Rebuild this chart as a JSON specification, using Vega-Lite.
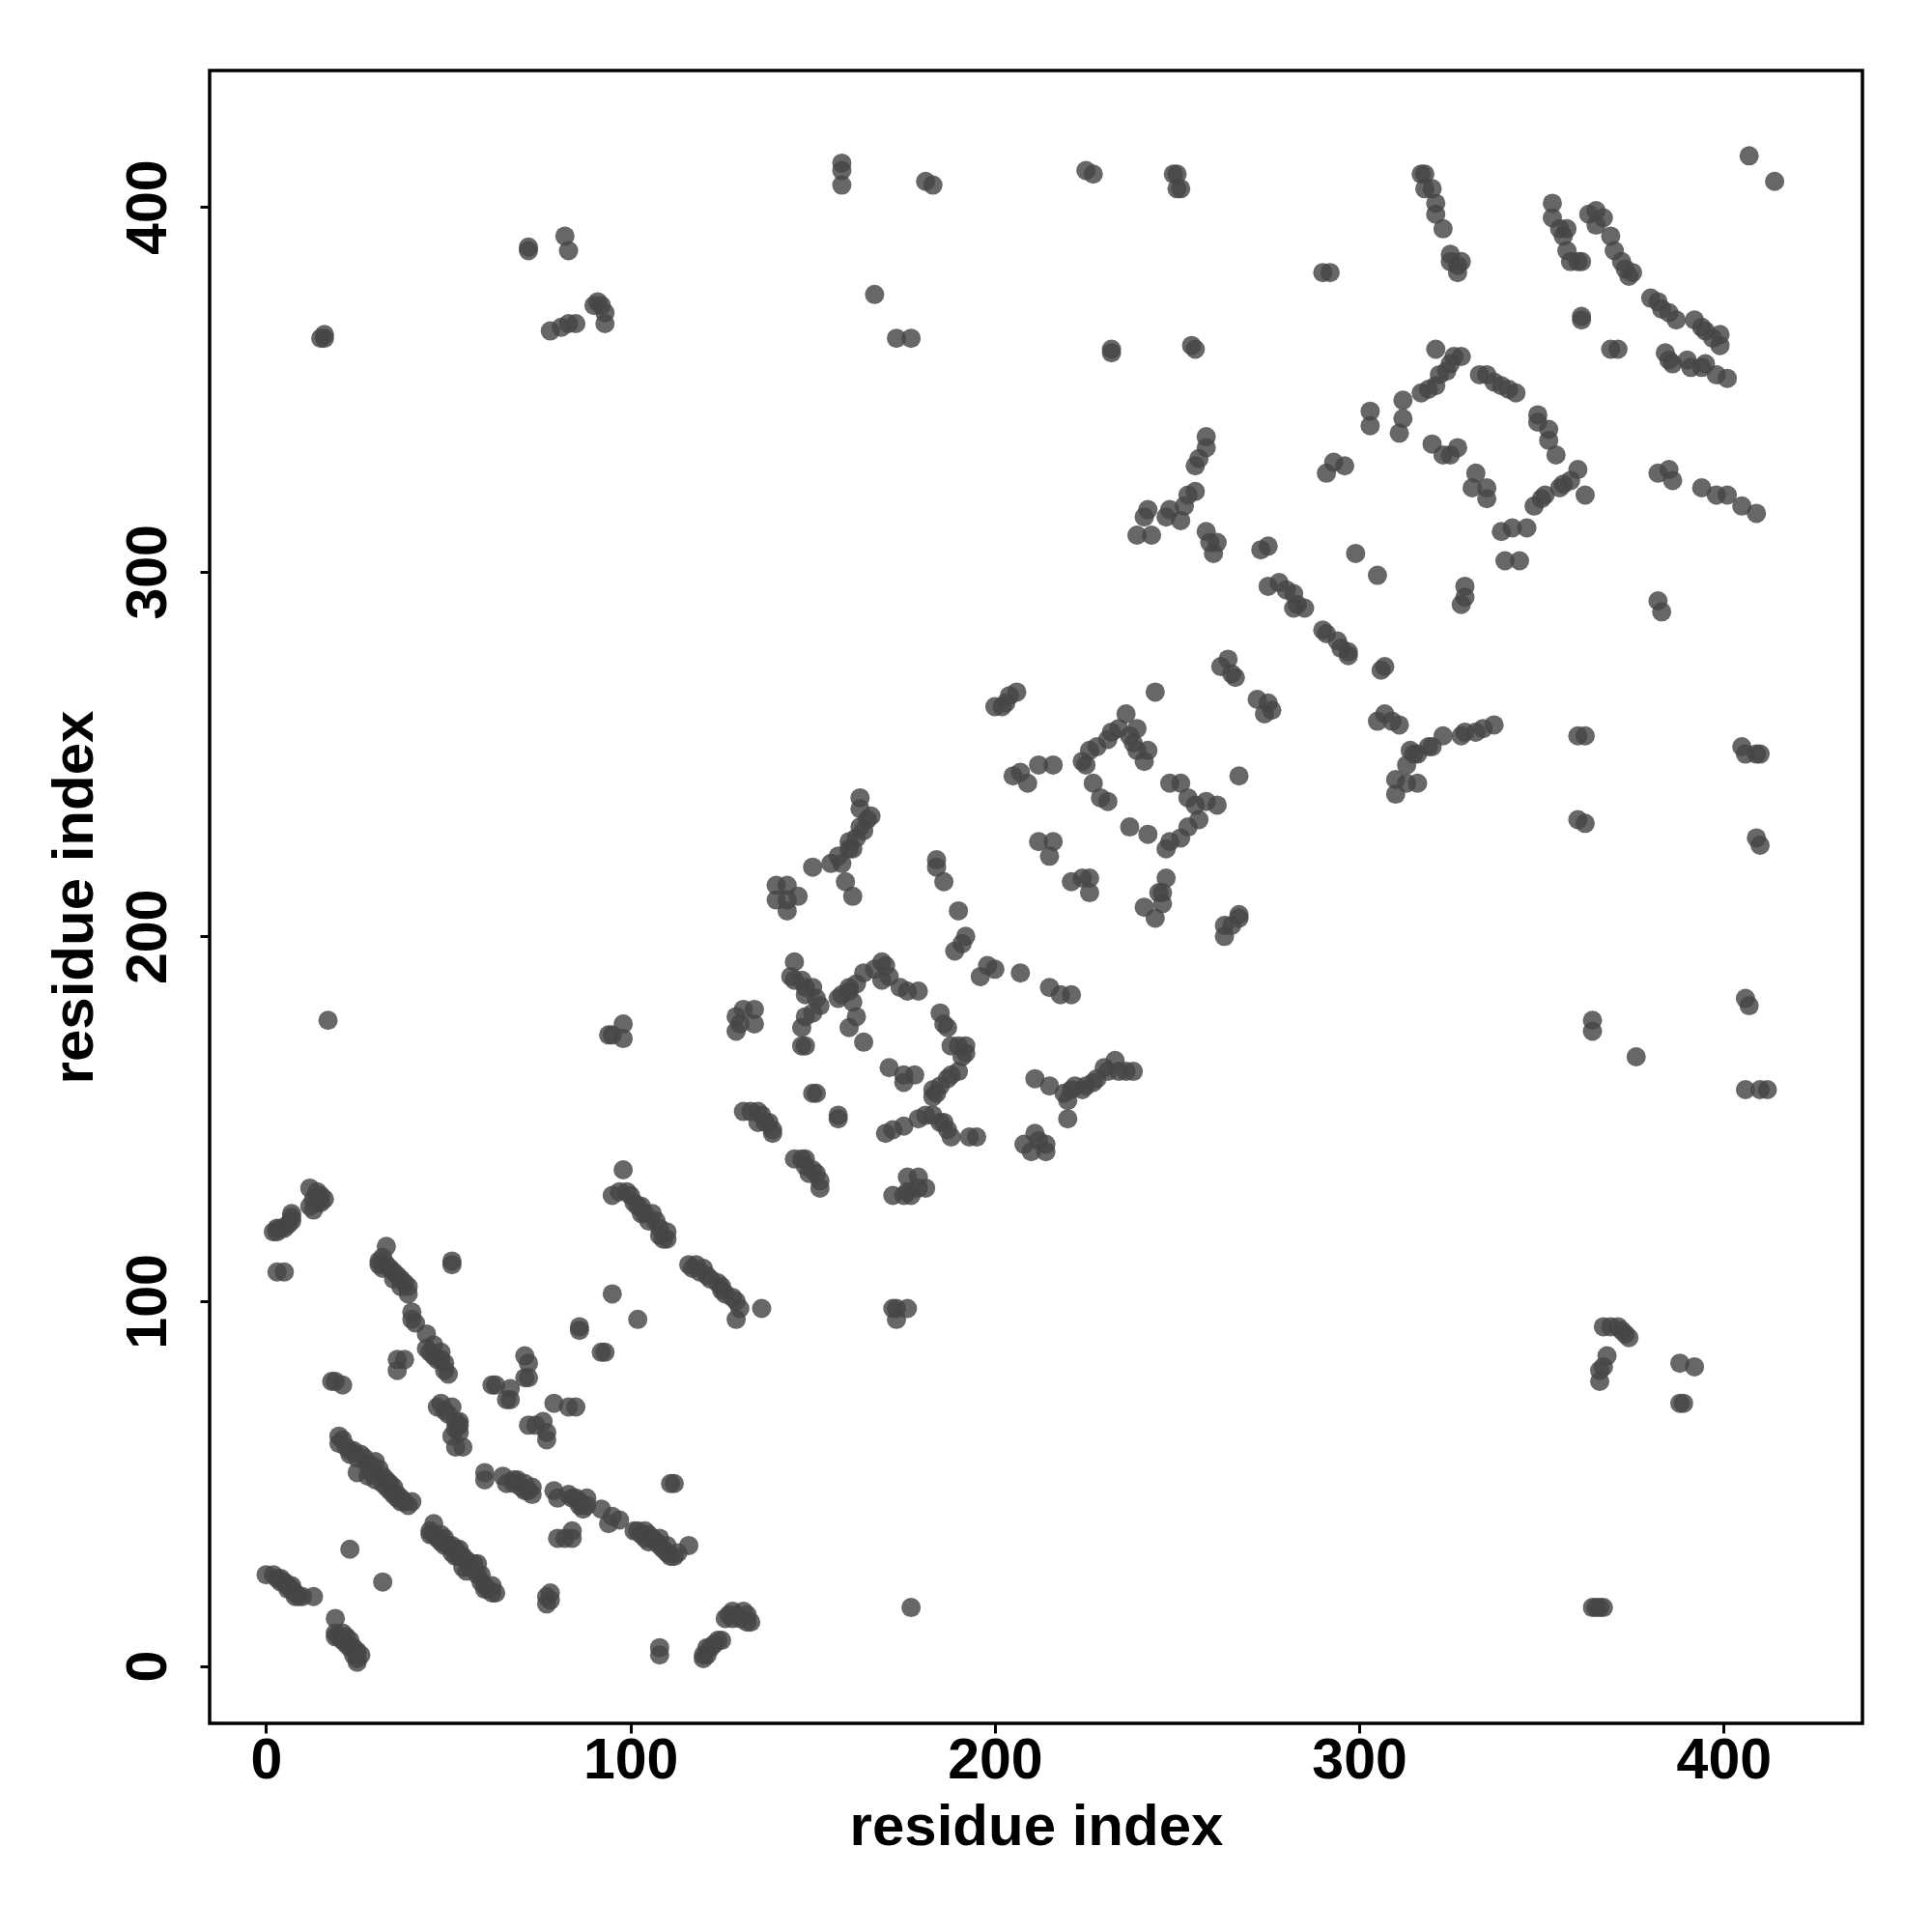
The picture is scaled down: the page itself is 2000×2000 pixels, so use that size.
{"$schema":"https://vega.github.io/schema/vega-lite/v6.json","width":1711,"height":1711,"autosize":{"type":"none"},"padding":{"left":217,"top":73,"right":72,"bottom":216},"background":"white","config":{"view":{"stroke":"black","strokeWidth":3.5},"font":"Liberation Sans"},"data":{"values":[
{"i":0,"j":25},{"i":2,"j":25},{"i":3,"j":24},{"i":4,"j":24},{"i":4,"j":23},{"i":5,"j":23},{"i":6,"j":22},{"i":6,"j":21},{"i":7,"j":22},{"i":7,"j":21},{"i":8,"j":20},{"i":8,"j":19},{"i":9,"j":19},{"i":10,"j":19},{"i":13,"j":19},
{"i":19,"j":13},{"i":19,"j":9},{"i":19,"j":8},{"i":20,"j":8},{"i":21,"j":7},{"i":21,"j":9},{"i":22,"j":8},{"i":22,"j":6},{"i":23,"j":7},{"i":23,"j":5},{"i":24,"j":5},{"i":24,"j":3},{"i":25,"j":4},{"i":25,"j":2},{"i":25,"j":1},{"i":26,"j":3},
{"i":23,"j":32},{"i":32,"j":23},
{"i":20,"j":63},{"i":20,"j":61},{"i":21,"j":62},{"i":22,"j":60},{"i":23,"j":59},{"i":23,"j":58},{"i":24,"j":59},{"i":25,"j":57},{"i":25,"j":53},{"i":26,"j":58},{"i":27,"j":57},{"i":28,"j":55},{"i":28,"j":52},{"i":29,"j":55},{"i":29,"j":53},{"i":30,"j":51},{"i":30,"j":56},{"i":31,"j":54},{"i":32,"j":52},{"i":32,"j":50},{"i":33,"j":51},{"i":33,"j":49},{"i":34,"j":50},{"i":34,"j":48},{"i":35,"j":49},{"i":35,"j":47},{"i":36,"j":46},{"i":36,"j":47},{"i":37,"j":46},{"i":37,"j":45},{"i":38,"j":45},{"i":39,"j":44},{"i":40,"j":45},
{"i":45,"j":37},{"i":45,"j":36},{"i":46,"j":39},{"i":46,"j":36},{"i":47,"j":35},{"i":48,"j":36},{"i":48,"j":34},{"i":49,"j":35},{"i":49,"j":33},{"i":50,"j":33},{"i":51,"j":33},{"i":51,"j":31},{"i":52,"j":32},{"i":52,"j":30},{"i":53,"j":30},{"i":53,"j":32},{"i":54,"j":30},{"i":54,"j":27},{"i":55,"j":29},{"i":55,"j":26},{"i":56,"j":27},{"i":57,"j":28},{"i":58,"j":28},{"i":58,"j":25},{"i":59,"j":25},{"i":59,"j":23},{"i":60,"j":22},{"i":60,"j":21},{"i":61,"j":21},{"i":62,"j":20},{"i":62,"j":22},{"i":63,"j":20},
{"i":60,"j":53},{"i":60,"j":51},
{"i":65,"j":52},{"i":66,"j":50},{"i":68,"j":51},{"i":68,"j":50},{"i":69,"j":51},{"i":70,"j":49},{"i":71,"j":50},{"i":71,"j":48},{"i":72,"j":48},{"i":73,"j":49},{"i":73,"j":47},
{"i":79,"j":48},{"i":80,"j":46},{"i":83,"j":47},{"i":84,"j":46},{"i":85,"j":46},{"i":86,"j":45},{"i":86,"j":44},{"i":87,"j":43},{"i":88,"j":46},{"i":88,"j":44},{"i":92,"j":43},{"i":94,"j":39},{"i":95,"j":41},{"i":97,"j":40},
{"i":101,"j":37},{"i":102,"j":37},{"i":103,"j":36},{"i":104,"j":37},{"i":104,"j":35},{"i":105,"j":36},{"i":105,"j":34},{"i":106,"j":35},{"i":107,"j":34},{"i":108,"j":33},{"i":108,"j":35},{"i":109,"j":32},{"i":110,"j":33},{"i":110,"j":31},{"i":111,"j":30},{"i":112,"j":30},{"i":113,"j":31},{"i":116,"j":33},
{"i":111,"j":50},{"i":112,"j":50},{"i":77,"j":19},{"i":77,"j":17},{"i":78,"j":20},{"i":78,"j":18},{"i":80,"j":35},{"i":82,"j":35},{"i":84,"j":37},{"i":84,"j":35},
{"i":108,"j":5},{"i":108,"j":3},
{"i":120,"j":2},{"i":120,"j":3},{"i":121,"j":3},{"i":121,"j":5},{"i":122,"j":5},{"i":123,"j":6},{"i":124,"j":7},{"i":125,"j":7},{"i":126,"j":13},{"i":127,"j":14},{"i":128,"j":13},{"i":128,"j":15},{"i":129,"j":14},{"i":130,"j":13},{"i":131,"j":15},{"i":132,"j":14},{"i":132,"j":12},{"i":133,"j":12},
{"i":177,"j":16},{"i":364,"j":16},{"i":365,"j":16},{"i":366,"j":16},{"i":367,"j":16},{"i":17,"j":177},
{"i":2,"j":119},{"i":3,"j":119},{"i":3,"j":120},{"i":4,"j":120},{"i":5,"j":120},{"i":6,"j":121},{"i":7,"j":123},{"i":7,"j":122},{"i":7,"j":124},{"i":12,"j":131},{"i":12,"j":126},{"i":13,"j":128},{"i":13,"j":125},{"i":14,"j":130},{"i":14,"j":127},{"i":15,"j":129},{"i":15,"j":127},{"i":16,"j":128},
{"i":3,"j":108},{"i":5,"j":108},{"i":18,"j":78},{"i":19,"j":78},{"i":21,"j":77},
{"i":31,"j":111},{"i":31,"j":110},{"i":32,"j":112},{"i":32,"j":109},{"i":33,"j":115},{"i":33,"j":110},{"i":34,"j":109},{"i":35,"j":108},{"i":35,"j":106},{"i":36,"j":107},{"i":37,"j":106},{"i":37,"j":104},{"i":38,"j":105},{"i":39,"j":104},{"i":39,"j":102},
{"i":51,"j":111},{"i":51,"j":110},
{"i":40,"j":97},{"i":40,"j":95},{"i":41,"j":94},{"i":44,"j":91},{"i":44,"j":87},{"i":45,"j":86},{"i":46,"j":88},{"i":46,"j":85},{"i":47,"j":84},{"i":48,"j":86},{"i":48,"j":84},{"i":49,"j":83},{"i":49,"j":81},{"i":50,"j":80},{"i":36,"j":84},{"i":36,"j":81},{"i":38,"j":84},
{"i":47,"j":71},{"i":48,"j":72},{"i":49,"j":70},{"i":50,"j":69},{"i":51,"j":71},{"i":51,"j":63},{"i":52,"j":67},{"i":52,"j":65},{"i":53,"j":67},{"i":53,"j":66},{"i":53,"j":64},{"i":52,"j":60},{"i":54,"j":60},
{"i":62,"j":77},{"i":63,"j":77},{"i":67,"j":76},{"i":67,"j":73},{"i":66,"j":73},
{"i":71,"j":85},{"i":72,"j":83},{"i":71,"j":79},{"i":72,"j":79},{"i":72,"j":66},{"i":74,"j":66},{"i":76,"j":67},{"i":77,"j":62},{"i":77,"j":64},
{"i":79,"j":72},{"i":83,"j":71},{"i":85,"j":71},{"i":86,"j":93},{"i":86,"j":92},{"i":92,"j":86},{"i":93,"j":86},{"i":95,"j":102},{"i":102,"j":95},
{"i":95,"j":129},{"i":98,"j":136},{"i":97,"j":130},{"i":99,"j":130},{"i":100,"j":129},{"i":101,"j":127},{"i":102,"j":126},{"i":103,"j":126},{"i":103,"j":124},{"i":104,"j":124},{"i":105,"j":122},{"i":106,"j":124},{"i":107,"j":122},{"i":108,"j":120},{"i":108,"j":118},{"i":110,"j":119},{"i":110,"j":117},{"i":109,"j":117},
{"i":116,"j":110},{"i":117,"j":109},{"i":118,"j":110},{"i":119,"j":108},{"i":120,"j":109},{"i":121,"j":107},{"i":122,"j":106},{"i":124,"j":105},{"i":125,"j":104},{"i":125,"j":103},{"i":126,"j":102},{"i":128,"j":101},{"i":129,"j":100},{"i":130,"j":98},{"i":129,"j":95},{"i":136,"j":98},
{"i":172,"j":98},{"i":173,"j":98},{"i":173,"j":95},{"i":176,"j":98},
{"i":367,"j":93},{"i":369,"j":93},{"i":371,"j":93},{"i":372,"j":92},{"i":373,"j":91},{"i":374,"j":90},{"i":368,"j":85},{"i":367,"j":82},{"i":366,"j":81},{"i":366,"j":78},{"i":388,"j":83},{"i":392,"j":82},{"i":388,"j":72},{"i":389,"j":72},
{"i":129,"j":178},{"i":131,"j":180},{"i":134,"j":180},{"i":134,"j":176},{"i":129,"j":174},{"i":130,"j":176},{"i":94,"j":173},{"i":98,"j":176},{"i":98,"j":172},{"i":95,"j":173},
{"i":131,"j":152},{"i":133,"j":152},{"i":135,"j":152},{"i":136,"j":151},{"i":137,"j":149},{"i":138,"j":149},{"i":139,"j":147},{"i":139,"j":146},{"i":135,"j":149},
{"i":145,"j":139},{"i":147,"j":139},{"i":148,"j":139},{"i":148,"j":137},{"i":149,"j":135},{"i":151,"j":135},{"i":152,"j":133},{"i":152,"j":131},{"i":150,"j":136},
{"i":150,"j":157},{"i":151,"j":157},{"i":157,"j":151},{"i":157,"j":150},
{"i":172,"j":129},{"i":175,"j":129},{"i":176,"j":130},{"i":176,"j":134},{"i":179,"j":134},{"i":181,"j":131},{"i":179,"j":131},{"i":177,"j":129},
{"i":170,"j":146},{"i":172,"j":147},{"i":175,"j":148},{"i":179,"j":150},{"i":181,"j":151},{"i":183,"j":151},{"i":185,"j":149},{"i":186,"j":149},{"i":187,"j":147},{"i":188,"j":145},{"i":193,"j":145},{"i":195,"j":145},
{"i":208,"j":143},{"i":210,"j":141},{"i":211,"j":146},{"i":212,"j":144},{"i":214,"j":141},{"i":214,"j":143},{"i":220,"j":150},{"i":215,"j":159},{"i":211,"j":161},
{"i":219,"j":157},{"i":220,"j":155},{"i":221,"j":158},{"i":222,"j":159},{"i":224,"j":158},{"i":225,"j":159},{"i":227,"j":160},{"i":228,"j":161},{"i":230,"j":164},{"i":231,"j":163},{"i":233,"j":166},{"i":234,"j":163},{"i":236,"j":163},{"i":238,"j":163},
{"i":145,"j":193},{"i":145,"j":188},{"i":147,"j":188},{"i":148,"j":186},{"i":148,"j":184},{"i":150,"j":186},{"i":151,"j":183},{"i":152,"j":181},{"i":150,"j":179},{"i":148,"j":178},{"i":147,"j":175},{"i":147,"j":170},{"i":148,"j":170},{"i":144,"j":189},
{"i":157,"j":183},{"i":158,"j":184},{"i":160,"j":185},{"i":162,"j":187},{"i":164,"j":190},{"i":160,"j":186},{"i":161,"j":182},
{"i":167,"j":191},{"i":169,"j":193},{"i":170,"j":192},{"i":169,"j":188},{"i":171,"j":189},{"i":174,"j":186},{"i":176,"j":185},{"i":179,"j":185},
{"i":162,"j":178},{"i":160,"j":175},{"i":164,"j":171},{"i":171,"j":164},{"i":175,"j":162},{"i":178,"j":162},{"i":175,"j":160},
{"i":185,"j":179},{"i":186,"j":176},{"i":187,"j":175},{"i":188,"j":170},{"i":190,"j":170},{"i":192,"j":170},{"i":192,"j":168},{"i":191,"j":167},
{"i":183,"j":158},{"i":183,"j":156},{"i":185,"j":159},{"i":187,"j":161},{"i":188,"j":162},{"i":190,"j":163},{"i":184,"j":157},
{"i":184,"j":221},{"i":184,"j":219},{"i":186,"j":215},{"i":190,"j":207},{"i":192,"j":200},{"i":191,"j":198},{"i":189,"j":196},{"i":196,"j":189},{"i":198,"j":192},{"i":200,"j":191},{"i":207,"j":190},{"i":215,"j":186},{"i":218,"j":184},{"i":221,"j":184},
{"i":140,"j":214},{"i":143,"j":214},{"i":140,"j":210},{"i":143,"j":210},{"i":146,"j":211},{"i":143,"j":207},
{"i":150,"j":219},{"i":155,"j":220},{"i":157,"j":222},{"i":160,"j":224},{"i":160,"j":226},{"i":162,"j":227},{"i":163,"j":230},{"i":165,"j":232},{"i":166,"j":233},{"i":163,"j":238},{"i":163,"j":235},{"i":158,"j":220},{"i":161,"j":224},{"i":164,"j":229},{"i":159,"j":215},{"i":161,"j":211},
{"i":200,"j":263},{"i":203,"j":264},{"i":204,"j":266},{"i":206,"j":267},{"i":202,"j":263},
{"i":205,"j":244},{"i":207,"j":245},{"i":209,"j":242},{"i":212,"j":247},{"i":216,"j":247},{"i":212,"j":226},{"i":216,"j":226},{"i":215,"j":222},{"i":221,"j":215},{"i":224,"j":216},{"i":226,"j":216},{"i":226,"j":212},
{"i":224,"j":248},{"i":225,"j":247},{"i":226,"j":251},{"i":228,"j":252},{"i":231,"j":254},{"i":232,"j":256},{"i":234,"j":257},{"i":236,"j":261},{"i":237,"j":255},{"i":239,"j":257},{"i":238,"j":253},{"i":239,"j":251},{"i":241,"j":248},{"i":242,"j":251},
{"i":227,"j":242},{"i":229,"j":238},{"i":231,"j":237},{"i":237,"j":230},{"i":242,"j":228},
{"i":247,"j":224},{"i":248,"j":226},{"i":251,"j":227},{"i":253,"j":230},{"i":256,"j":232},{"i":258,"j":237},{"i":261,"j":236},{"i":255,"j":236},{"i":253,"j":238},{"i":251,"j":242},{"i":248,"j":242},
{"i":244,"j":267},{"i":267,"j":244},{"i":247,"j":216},{"i":246,"j":212},{"i":245,"j":212},{"i":241,"j":208},{"i":244,"j":205},{"i":246,"j":209},
{"i":263,"j":200},{"i":263,"j":203},{"i":265,"j":203},{"i":267,"j":205},{"i":267,"j":206},
{"i":273,"j":306},{"i":275,"j":307},{"i":275,"j":296},{"i":278,"j":297},{"i":280,"j":295},{"i":282,"j":294},{"i":283,"j":291},{"i":285,"j":290},{"i":282,"j":290},
{"i":290,"j":284},{"i":291,"j":283},{"i":294,"j":281},{"i":295,"j":279},{"i":297,"j":277},{"i":297,"j":278},{"i":299,"j":305},{"i":305,"j":299},{"i":307,"j":274},{"i":306,"j":273},
{"i":262,"j":274},{"i":264,"j":276},{"i":265,"j":272},{"i":266,"j":271},{"i":272,"j":265},{"i":274,"j":261},{"i":275,"j":264},{"i":276,"j":262},
{"i":305,"j":259},{"i":307,"j":261},{"i":309,"j":259},{"i":311,"j":258},{"i":314,"j":251},{"i":316,"j":250},{"i":313,"j":247},{"i":319,"j":252},{"i":320,"j":252},{"i":323,"j":255},{"i":315,"j":250},
{"i":310,"j":243},{"i":310,"j":239},{"i":313,"j":242},{"i":316,"j":242},{"i":328,"j":255},{"i":329,"j":256},{"i":332,"j":256},{"i":334,"j":257},{"i":337,"j":258},
{"i":239,"j":310},{"i":241,"j":315},{"i":242,"j":317},{"i":243,"j":310},{"i":247,"j":315},{"i":248,"j":317},{"i":251,"j":314},{"i":252,"j":318},{"i":253,"j":321},{"i":255,"j":322},
{"i":255,"j":329},{"i":256,"j":331},{"i":258,"j":334},{"i":258,"j":337},{"i":258,"j":311},{"i":259,"j":308},{"i":260,"j":305},{"i":261,"j":308},
{"i":232,"j":361},{"i":232,"j":360},{"i":254,"j":362},{"i":255,"j":361},{"i":290,"j":382},{"i":292,"j":382},{"i":291,"j":327},{"i":293,"j":330},{"i":296,"j":329},{"i":303,"j":344},{"i":303,"j":340},{"i":312,"j":347},{"i":312,"j":342},{"i":311,"j":338},
{"i":317,"j":349},{"i":319,"j":350},{"i":321,"j":351},{"i":322,"j":354},{"i":324,"j":355},{"i":325,"j":357},{"i":326,"j":359},{"i":328,"j":359},{"i":321,"j":361},
{"i":333,"j":354},{"i":335,"j":354},{"i":337,"j":352},{"i":339,"j":351},{"i":341,"j":350},{"i":343,"j":349},{"i":320,"j":335},{"i":323,"j":332},{"i":325,"j":332},{"i":327,"j":334},{"i":331,"j":323},{"i":332,"j":327},{"i":335,"j":323},{"i":335,"j":320},
{"i":349,"j":343},{"i":349,"j":341},{"i":352,"j":339},{"i":352,"j":336},{"i":354,"j":332},{"i":360,"j":328},{"i":358,"j":325},{"i":355,"j":323},{"i":351,"j":321},{"i":348,"j":318},{"i":356,"j":324},{"i":350,"j":320},{"i":362,"j":321},
{"i":339,"j":311},{"i":342,"j":312},{"i":346,"j":312},{"i":340,"j":303},{"i":344,"j":303},{"i":328,"j":291},{"i":329,"j":293},{"i":329,"j":296},{"i":382,"j":292},{"i":383,"j":289},
{"i":382,"j":327},{"i":385,"j":328},{"i":386,"j":325},{"i":394,"j":323},{"i":398,"j":321},{"i":401,"j":321},{"i":405,"j":318},{"i":409,"j":316},
{"i":360,"j":255},{"i":362,"j":255},{"i":360,"j":232},{"i":362,"j":231},{"i":405,"j":252},{"i":406,"j":250},{"i":409,"j":250},{"i":410,"j":250},{"i":409,"j":227},{"i":410,"j":225},{"i":406,"j":183},{"i":407,"j":181},{"i":406,"j":158},{"i":410,"j":158},{"i":412,"j":158},{"i":364,"j":177},{"i":364,"j":174},{"i":376,"j":167},
{"i":16,"j":365},{"i":16,"j":364},{"i":15,"j":364},{"i":72,"j":388},{"i":72,"j":389},{"i":82,"j":392},{"i":83,"j":388},{"i":78,"j":366},{"i":81,"j":367},{"i":83,"j":368},{"i":85,"j":368},{"i":90,"j":373},{"i":92,"j":373},{"i":93,"j":371},{"i":93,"j":368},{"i":91,"j":374},
{"i":158,"j":410},{"i":158,"j":412},{"i":158,"j":406},{"i":167,"j":376},{"i":173,"j":364},{"i":177,"j":364},{"i":181,"j":407},{"i":183,"j":406},{"i":225,"j":410},{"i":227,"j":409},{"i":249,"j":409},{"i":250,"j":409},{"i":250,"j":405},{"i":251,"j":405},
{"i":317,"j":409},{"i":318,"j":409},{"i":318,"j":405},{"i":320,"j":405},{"i":321,"j":401},{"i":321,"j":398},{"i":323,"j":394},{"i":325,"j":387},{"i":325,"j":385},{"i":327,"j":384},{"i":328,"j":385},{"i":327,"j":382},{"i":407,"j":414},{"i":414,"j":407},
{"i":353,"j":401},{"i":353,"j":397},{"i":355,"j":394},{"i":356,"j":392},{"i":357,"j":388},{"i":358,"j":385},{"i":360,"j":385},{"i":361,"j":385},{"i":357,"j":394},
{"i":363,"j":398},{"i":365,"j":399},{"i":365,"j":395},{"i":367,"j":397},{"i":369,"j":392},{"i":370,"j":388},{"i":372,"j":385},{"i":373,"j":383},{"i":375,"j":382},{"i":374,"j":381},
{"i":361,"j":370},{"i":361,"j":369},{"i":369,"j":361},{"i":371,"j":361},
{"i":380,"j":375},{"i":382,"j":374},{"i":383,"j":372},{"i":385,"j":371},{"i":387,"j":369},{"i":392,"j":369},{"i":394,"j":367},{"i":395,"j":366},{"i":399,"j":365},{"i":399,"j":362},{"i":397,"j":364},
{"i":384,"j":360},{"i":385,"j":358},{"i":386,"j":357},{"i":390,"j":358},{"i":391,"j":356},{"i":394,"j":356},{"i":395,"j":357},{"i":398,"j":354},{"i":401,"j":353}
]},
"mark":{"type":"circle","size":400,"color":"#454545","opacity":0.82},
"encoding":{
"x":{"field":"i","type":"quantitative","scale":{"domain":[-15.5,438.1],"nice":false,"zero":false},"axis":{"title":"residue index","grid":false,"domain":false,"values":[0,100,200,300,400],"tickColor":"black","tickWidth":3,"tickSize":10,"labelFont":"Liberation Sans","labelFontWeight":"bold","labelFontSize":59,"labelColor":"black","labelPadding":-1,"titleFont":"Liberation Sans","titleFontWeight":"bold","titleFontSize":60,"titleColor":"black","titlePadding":10}},
"y":{"field":"j","type":"quantitative","scale":{"domain":[-15.75,437.4],"nice":false,"zero":false},"axis":{"title":"residue index","grid":false,"domain":false,"values":[0,100,200,300,400],"tickColor":"black","tickWidth":3,"tickSize":10,"labelAngle":-90,"labelAlign":"center","labelBaseline":"bottom","labelFont":"Liberation Sans","labelFontWeight":"bold","labelFontSize":59,"labelColor":"black","labelPadding":24,"titleFont":"Liberation Sans","titleFontWeight":"bold","titleFontSize":60,"titleColor":"black","titlePadding":16}}
}}
